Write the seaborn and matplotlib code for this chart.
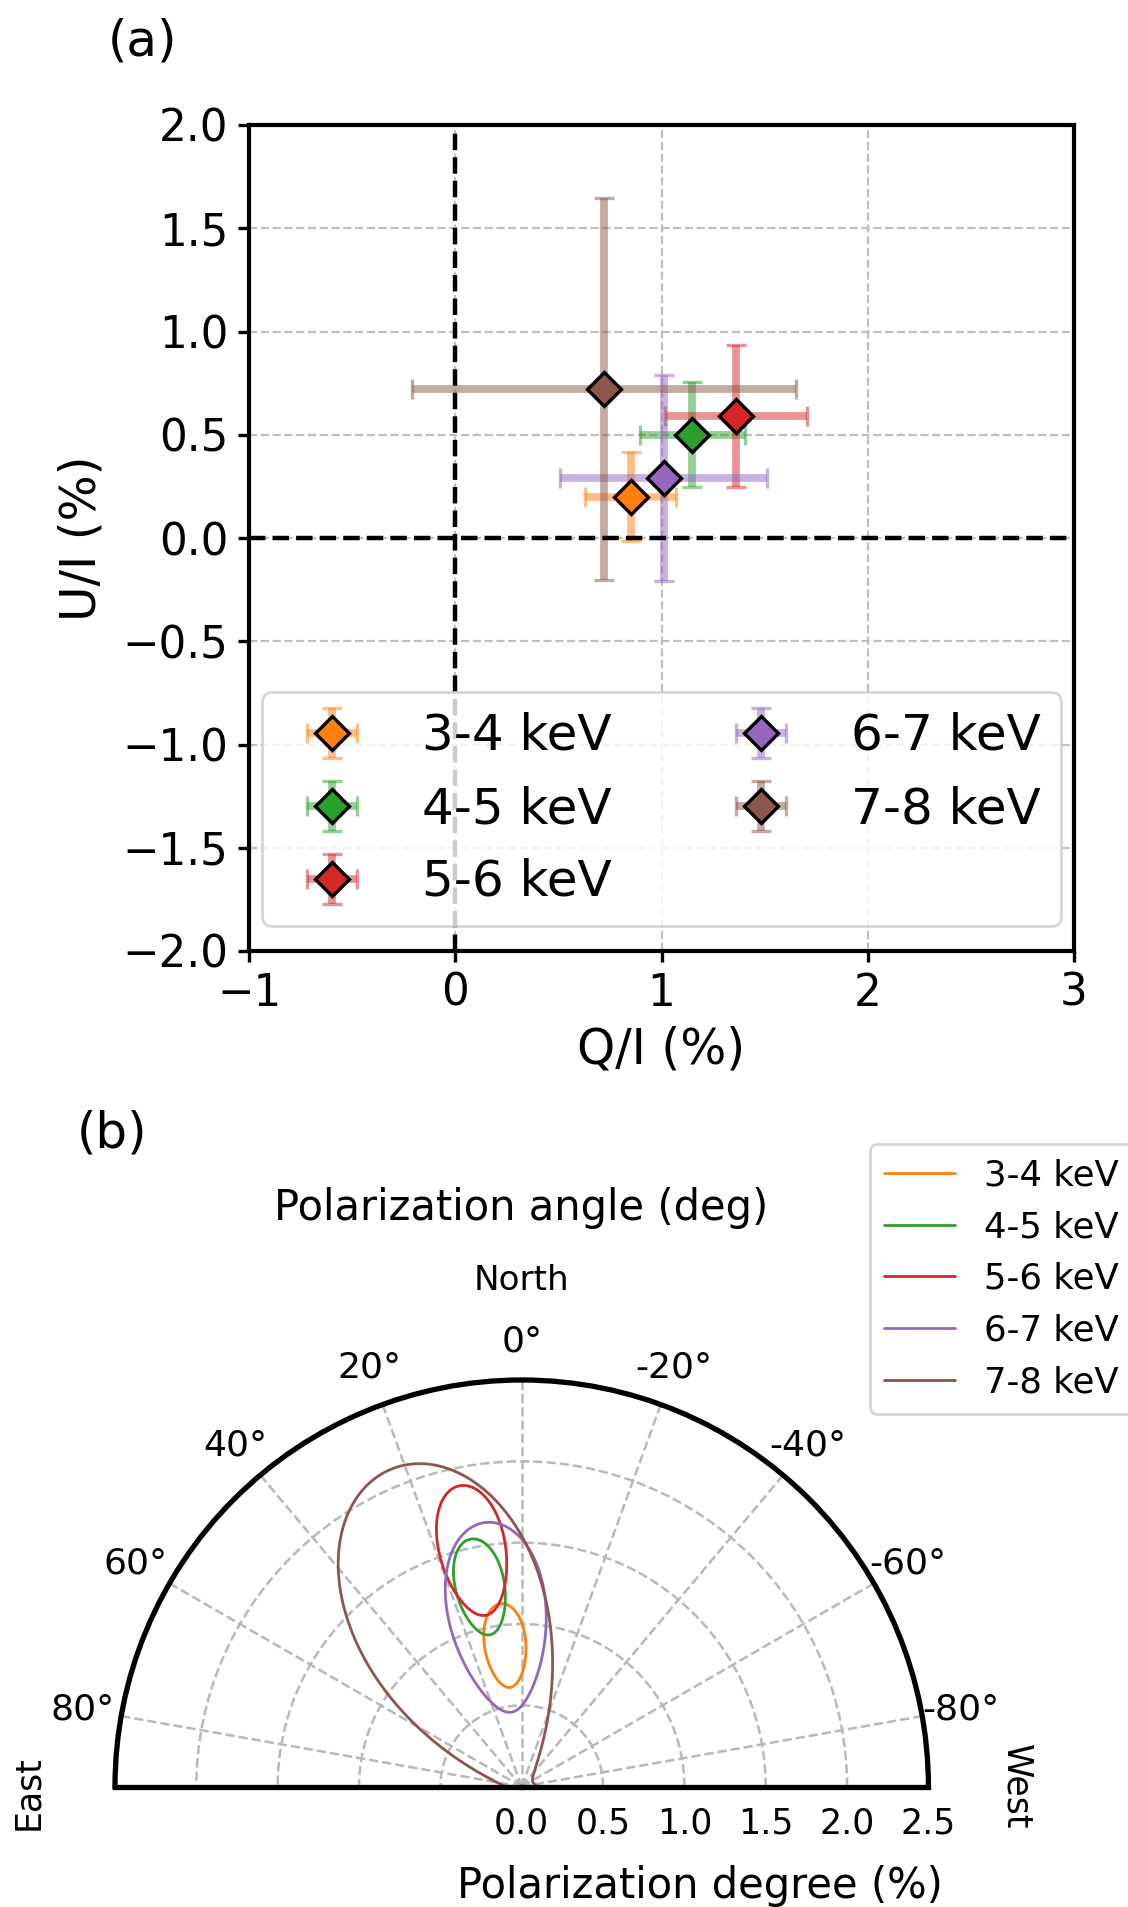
import numpy as np
import pandas as pd
import matplotlib
matplotlib.use("Agg")
import matplotlib.pyplot as plt
import seaborn as sns

# ---------------- data ----------------
bands = ["3-4 keV", "4-5 keV", "5-6 keV", "6-7 keV", "7-8 keV"]
q_vals = [0.85, 1.15, 1.36, 1.01, 0.72]
u_vals = [0.20, 0.50, 0.59, 0.29, 0.72]
q_errs = [0.22, 0.255, 0.345, 0.50, 0.93]
u_errs = [0.215, 0.255, 0.345, 0.50, 0.925]
contour_level = 1.1774  # contour radius in units of sigma (50% for 2 dof)

x_ticks = [-1, 0, 1, 2, 3]
y_ticks = [-2.0, -1.5, -1.0, -0.5, 0.0, 0.5, 1.0, 1.5, 2.0]
theta_ticks_deg = [-80, -60, -40, -20, 0, 20, 40, 60, 80]
r_ticks = [0.0, 0.5, 1.0, 1.5, 2.0, 2.5]

# ---------------- style ----------------
sns.set_style("ticks", rc={"axes.edgecolor": "black", "text.color": "black",
                           "xtick.color": "black", "ytick.color": "black",
                           "axes.labelcolor": "black"})
plt.rcParams["font.family"] = ["DejaVu Sans"]
colors = sns.color_palette("tab10")[1:6]

W, H, DPI = 1128, 1907, 200
fig = plt.figure(figsize=(W / DPI, H / DPI), dpi=DPI)


def rect(l, t, r, b):
    return [l / W, 1 - b / H, (r - l) / W, (b - t) / H]


# ---------------- panel (a) ----------------
ax = fig.add_axes(rect(249, 125, 1074, 951))
for band, q, u, qe, ue, c in zip(bands, q_vals, u_vals, q_errs, u_errs, colors):
    cont = ax.errorbar(q, u, xerr=qe, yerr=ue, fmt="D", color=c, mfc=c, mec="black",
                       ms=8.5, mew=1.2, elinewidth=2.8, capsize=3.5, capthick=2.5,
                       label=band, zorder=3)
    for art in cont.lines[1]:
        art.set_alpha(0.5)
    for art in cont.lines[2]:
        art.set_alpha(0.5)
    cont.lines[0].set_zorder(4)

ax.axhline(0, color="black", ls="--", lw=1.6, zorder=3.5)
ax.axvline(0, color="black", ls="--", lw=1.6, zorder=3.5)
ax.set_xlim(-1, 3)
ax.set_ylim(-2, 2)
ax.set_xticks(x_ticks)
ax.set_yticks(y_ticks)
ax.grid(True, ls="--", color="0.75", lw=0.8)
ax.set_axisbelow(True)
for sp in ax.spines.values():
    sp.set_linewidth(1.5)
    sp.set_color("black")
ax.tick_params(direction="out", length=4, width=1.2, labelsize=15.7,
               top=False, right=False)
ax.set_xlabel("Q/I (%)", fontsize=17.5)
ax.set_ylabel("U/I (%)", fontsize=17.5, labelpad=6)
ax.legend(loc="lower center", ncol=2, fontsize=18)

fig.text(142 / W, 1 - 42 / H, "(a)", fontsize=18, ha="center", va="center")

# ---------------- panel (b) ----------------
rows = []
phi = np.linspace(0, 2 * np.pi, 721)
for band, q, u, qe, ue in zip(bands, q_vals, u_vals, q_errs, u_errs):
    Q = q + contour_level * qe * np.cos(phi)
    U = u + contour_level * ue * np.sin(phi)
    psi = np.arctan2(U, Q)
    jumps = np.abs(np.diff(psi))
    if jumps.max() > np.pi:
        k = int(np.argmax(jumps)) + 1
        Q = np.roll(Q[:-1], -k)
        U = np.roll(U[:-1], -k)
        psi = np.arctan2(U, Q)
    pd_ = np.hypot(Q, U)
    pa = 0.5 * psi
    rows.append(pd.DataFrame({"theta": pa, "r": pd_, "band": band}))
df = pd.concat(rows, ignore_index=True)

# polar sector is drawn centred in a square box: half-disk width = box side
cx, cy, R = 521.7, 1786.7, 406.7
axp = fig.add_axes(rect(cx - R, cy - 1.5 * R, cx + R, cy + 0.5 * R), projection="polar")
sns.lineplot(data=df, x="theta", y="r", hue="band", hue_order=bands,
             palette=dict(zip(bands, colors)), sort=False, estimator=None,
             lw=1.0, legend=False, ax=axp)
axp.set_theta_zero_location("N")
axp.set_theta_direction(1)
axp.set_thetamin(-90)
axp.set_thetamax(90)
axp.set_rlim(0, 2.5)
axp.set_rticks(r_ticks)
axp.set_thetagrids(theta_ticks_deg)
axp.set_xlabel("")
axp.set_ylabel("")
axp.tick_params(axis="x", labelsize=13)
axp.tick_params(axis="y", labelsize=12.5)
axp.grid(True, ls="--", color="0.72", lw=0.9)
for sp in axp.spines.values():
    sp.set_linewidth(1.9)
    sp.set_color("black")

handles = axp.lines[-5:]
axp.legend(handles, bands, loc="upper left", bbox_to_anchor=(870 / W, 1 - 1144 / H),
           bbox_transform=fig.transFigure, borderaxespad=0, fontsize=12.8)

fig.text(112 / W, 1 - 1133 / H, "(b)", fontsize=18, ha="center", va="center")
fig.text(521 / W, 1 - 1208 / H, "Polarization angle (deg)", fontsize=15,
         ha="center", va="center")
fig.text(521 / W, 1 - 1280 / H, "North", fontsize=12.3, ha="center", va="center")
fig.text(28 / W, 1 - 1793 / H, "East", fontsize=12.5, ha="center", va="center",
         rotation=90)
fig.text(1016 / W, 1 - 1787 / H, "West", fontsize=12.5, ha="center", va="center",
         rotation=-90)
fig.text(700 / W, 1 - 1886 / H, "Polarization degree (%)", fontsize=15,
         ha="center", va="center")

fig.savefig("out.png", dpi=DPI)
